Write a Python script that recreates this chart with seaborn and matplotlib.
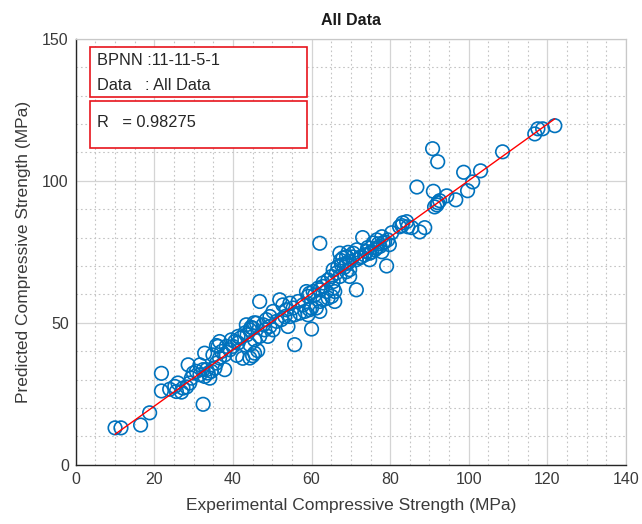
import numpy as np
import pandas as pd
import seaborn as sns
import matplotlib.pyplot as plt
from matplotlib.patches import Rectangle
from matplotlib.ticker import MultipleLocator

# values
experimental = [
    10.0, 11.5, 16.5, 18.8, 21.8, 21.8, 23.9, 25.2, 26.0, 25.6, 26.9, 27.3, 28.2, 28.6, 29.0,
    29.4, 29.9, 30.7, 31.6, 31.6, 32.4, 32.4, 32.8, 32.8, 33.3, 33.7, 34.1, 34.5, 34.9, 35.4,
    35.8, 35.8, 36.2, 36.6, 36.6, 37.1, 37.9, 37.9, 38.3, 39.2, 39.6, 40.0, 40.5, 41.0, 41.3,
    41.3, 41.9, 42.5, 43.0, 43.4, 43.6, 44.3, 44.6, 44.3, 44.3, 45.0, 45.1, 45.4, 45.5, 45.5,
    46.0, 46.3, 46.8, 46.8, 47.7, 48.1, 48.5, 48.9, 49.4, 49.4, 50.2, 50.2, 51.1, 51.9, 52.3,
    52.7, 53.2, 53.6, 54.0, 54.5, 54.5, 55.3, 55.7, 55.7, 56.6, 57.0, 57.8, 58.3, 58.7, 59.1,
    59.1, 59.5, 59.5, 60.0, 60.0, 60.4, 60.8, 61.2, 61.7, 62.1, 62.1, 62.1, 62.1, 62.9, 62.9,
    62.9, 63.8, 64.2, 64.2, 65.1, 65.1, 65.5, 65.5, 65.5, 65.9, 65.9, 66.3, 66.7, 67.2, 67.4,
    67.2, 67.6, 68.0, 68.3, 68.9, 68.9, 68.9, 69.3, 69.7, 69.7, 69.7, 70.5, 70.6, 71.4, 71.4,
    71.5, 72.3, 72.7, 73.0, 73.5, 74.0, 74.3, 74.8, 74.8, 75.3, 75.7, 76.1, 76.6, 76.6, 77.4,
    77.0, 77.9, 77.9, 78.2, 78.6, 79.1, 79.4, 79.8, 80.4, 82.4, 83.0, 83.2, 84.2, 84.5, 85.5,
    86.8, 87.5, 88.8, 90.8, 91.0, 91.3, 91.9, 92.1, 92.1, 92.6, 94.4, 96.7, 98.7, 99.7, 101.0,
    103.0, 108.6, 116.8, 117.6, 118.8, 121.9,
]
predicted = [
    13.0, 13.0, 14.0, 18.3, 32.2, 26.0, 26.6, 27.6, 28.8, 25.8, 25.6, 27.0, 27.4, 35.2, 28.8,
    30.5, 32.3, 32.9, 31.7, 35.2, 33.5, 21.3, 31.1, 39.3, 33.5, 32.3, 30.5, 32.9, 38.7, 34.0,
    35.8, 42.0, 41.7, 37.6, 43.4, 39.9, 38.7, 33.5, 41.7, 40.5, 44.0, 41.7, 43.4, 38.5, 42.9,
    45.2, 44.6, 37.5, 46.4, 49.3, 45.8, 47.5, 48.4, 42.3, 37.6, 38.4, 48.1, 50.0, 44.0, 39.3,
    49.9, 40.2, 45.2, 57.5, 49.3, 47.5, 51.1, 45.2, 52.2, 48.7, 54.0, 47.5, 50.5, 58.1, 51.1,
    56.3, 52.2, 54.6, 48.7, 56.9, 52.2, 55.2, 52.8, 42.3, 57.5, 53.4, 56.3, 54.0, 61.0, 59.3,
    52.8, 60.4, 54.6, 55.2, 47.8, 61.0, 59.8, 55.2, 62.2, 61.6, 57.5, 54.0, 78.0, 62.8, 64.0,
    58.1, 61.0, 65.1, 58.7, 66.3, 59.3, 68.7, 64.5, 62.2, 61.0, 57.5, 67.5, 69.8, 74.5, 72.0,
    66.3, 70.4, 72.8, 69.5, 73.3, 71.0, 68.0, 74.8, 71.6, 68.7, 66.3, 73.2, 74.5, 72.2, 61.6,
    75.7, 72.9, 73.3, 80.0, 73.9, 75.1, 76.5, 72.2, 74.5, 75.0, 78.1, 75.7, 79.2, 76.4, 76.9,
    77.8, 80.3, 75.0, 78.1, 78.5, 70.0, 79.2, 77.5, 81.7, 83.8, 84.2, 85.2, 85.6, 83.8, 83.5,
    97.8, 82.0, 83.5, 111.3, 96.3, 90.8, 91.5, 106.7, 92.3, 93.0, 94.7, 93.3, 103.0, 96.5, 99.6,
    103.5, 110.2, 116.5, 118.3, 118.3, 119.4,
]
model_label = "BPNN :11-11-5-1"
data_label = "Data   : All Data"
r_label = "R   = 0.98275"

df = pd.DataFrame({"experimental": experimental, "predicted": predicted})

sns.set_style("white")
plt.rcParams["font.family"] = ["Liberation Sans", "DejaVu Sans"]

fig = plt.figure(figsize=(6.42, 5.24), dpi=100)
ax = fig.add_axes([0.118, 0.113, 0.857, 0.813])

blue = "#0072BD"
sns.scatterplot(data=df, x="experimental", y="predicted", ax=ax, s=95,
                facecolors="none", edgecolor=blue, linewidth=1.2, zorder=3)
# least-squares fit line over the data range
sns.regplot(data=df, x="experimental", y="predicted", ax=ax, scatter=False,
            ci=None, truncate=True, color="red", line_kws={"linewidth": 1.0, "zorder": 4})

ax.set_xlim(0, 140)
ax.set_ylim(0, 150)
ax.xaxis.set_major_locator(MultipleLocator(20))
ax.xaxis.set_minor_locator(MultipleLocator(5))
ax.yaxis.set_major_locator(MultipleLocator(50))
ax.yaxis.set_minor_locator(MultipleLocator(10))
ax.grid(which="major", color="#d4d4d4", linewidth=0.9, linestyle="-")
ax.grid(which="minor", color="#c4c4c4", linewidth=0.8, linestyle=(0, (1.5, 2.5)))
ax.set_axisbelow(True)
ax.tick_params(which="major", direction="in", length=5, width=1, colors="#262626",
               labelsize=11.5, top=False, right=False, pad=5)
ax.tick_params(which="major", labelcolor="#3a3a3a")
ax.tick_params(which="minor", length=0)

for side in ["left", "bottom"]:
    ax.spines[side].set_color("#262626")
    ax.spines[side].set_linewidth(1.0)
for side in ["top", "right"]:
    ax.spines[side].set_color("#c8c8c8")
    ax.spines[side].set_linewidth(0.9)

ax.set_xlabel("Experimental Compressive Strength (MPa)", fontsize=12.5, color="#3a3a3a", labelpad=8)
ax.set_ylabel("Predicted Compressive Strength (MPa)", fontsize=12.5, color="#3a3a3a", labelpad=8)
ax.set_title("All Data", fontsize=11.5, fontweight="bold", color="#1a1a1a", pad=10)

# annotation boxes
ax.add_patch(Rectangle((0.0255, 0.864), 0.3945, 0.117, transform=ax.transAxes,
                       facecolor="white", edgecolor="#e8141c", linewidth=1.2, zorder=5))
ax.add_patch(Rectangle((0.0255, 0.744), 0.3945, 0.110, transform=ax.transAxes,
                       facecolor="white", edgecolor="#e8141c", linewidth=1.2, zorder=5))
ax.text(0.038, 0.948, model_label, transform=ax.transAxes, fontsize=11.8, va="center", zorder=6)
ax.text(0.038, 0.890, data_label, transform=ax.transAxes, fontsize=11.8, va="center", zorder=6)
ax.text(0.038, 0.803, r_label, transform=ax.transAxes, fontsize=11.8, va="center", zorder=6)

fig.savefig("out.png", dpi=100)
